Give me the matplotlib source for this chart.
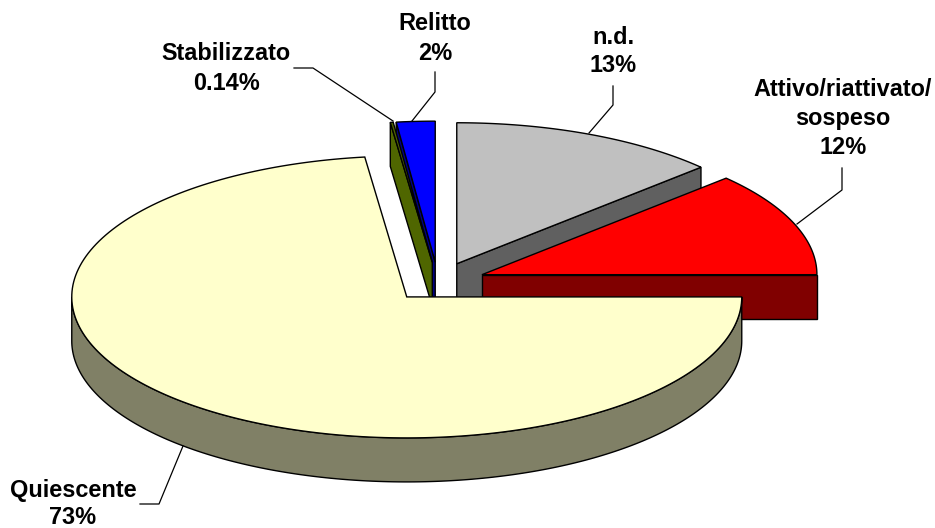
import numpy as np
import matplotlib
matplotlib.use('Agg')
import matplotlib.pyplot as plt

#chart values, clockwise from 12 o'clock
categories = ['n.d.', 'Attivo/riattivato/\nsospeso', 'Quiescente', 'Stabilizzato', 'Relitto']
values = [13, 12, 73, 0.14, 1.86]
pct_labels = ['13%', '12%', '73%', '0.14%', '2%']
top_colors = ['#C0C0C0', '#FF0000', '#FFFFCC', '#4F6600', '#0000FF']
side_colors = ['#606060', '#800000', '#808066', '#4F6600', '#000080']

#pie geometry in pixels
cx = 438.0
cy = 282.0
a = 335.0
b = 141.0
depth = 44.0
explode = 0.141

plt.rcParams['font.family'] = ['Liberation Sans', 'DejaVu Sans']
fig = plt.figure(figsize=(9.35, 5.28), dpi=100)
ax = fig.add_axes([0, 0, 1, 1])
ax.set_xlim(0, 935)
ax.set_ylim(528, 0)
ax.axis('off')

#start and end angle of each slice
fracs = np.array(values) / sum(values) * 360.0
ends = 90.0 - np.cumsum(fracs)
starts = ends + fracs


def rim(x0, y0, t0, t1):
    t = np.radians(np.linspace(t0, t1, 200))
    return x0 + a * np.cos(t), y0 - b * np.sin(t)


def draw_slice(i):
    mid = np.radians((starts[i] + ends[i]) / 2)
    x0 = cx + explode * a * np.cos(mid)
    y0 = cy - explode * b * np.sin(mid)
    name = categories[i]

    #radial faces that look at the viewer
    for ang in [starts[i], ends[i]]:
        xe = x0 + a * np.cos(np.radians(ang))
        ye = y0 - b * np.sin(np.radians(ang))
        facing = (ang == ends[i] and name != 'Relitto' and name != 'Stabilizzato' and name != 'Quiescente')
        facing = facing or (ang == starts[i] and name in ['Relitto', 'Stabilizzato'])
        if facing:
            ax.fill([x0, xe, xe, x0], [y0, ye, ye + depth, y0 + depth],
                    facecolor=side_colors[i], edgecolor='black', linewidth=1.0)

    #outer wall, only the front half shows
    t0 = max(ends[i], -180.0)
    t1 = min(starts[i], 0.0)
    if ends[i] < 0 and t1 > t0:
        xr, yr = rim(x0, y0, t0, t1)
        ax.fill(np.r_[xr, xr[::-1]], np.r_[yr, yr[::-1] + depth],
                facecolor=side_colors[i], edgecolor='black', linewidth=1.0)

    #top face
    xr, yr = rim(x0, y0, ends[i], starts[i])
    ax.fill(np.r_[x0, xr], np.r_[y0, yr],
            facecolor=top_colors[i], edgecolor='black', linewidth=1.0)


#back to front
for i in [0, 1, 4, 3, 2]:
    draw_slice(i)

#labels, one text per line
label_lines = [
    ('n.d.', 613, 37), ('13%', 613, 65),
    ('Attivo/riattivato/', 843, 89), ('sospeso', 843, 118), ('12%', 843, 148),
    ('Quiescente', 73, 490), ('73%', 73, 518),
    ('Stabilizzato', 226, 54), ('0.14%', 226, 84),
    ('Relitto', 435, 23), ('2%', 435, 53),
]
for txt, x, y in label_lines:
    ax.text(x, y, txt, ha='center', va='center', fontsize=16.9, fontweight='bold', color='black')

#leader lines
leaders = [
    ([613, 613, 589], [86, 105, 133]),
    ([842, 842, 797], [168, 190, 224]),
    ([140, 159, 183], [504, 504, 446]),
    ([294, 313, 393], [68, 68, 121]),
    ([435, 435, 412], [72, 92, 121]),
]
for xs, ys in leaders:
    ax.plot(xs, ys, color='black', linewidth=0.9)

fig.savefig('out.png', dpi=100)
